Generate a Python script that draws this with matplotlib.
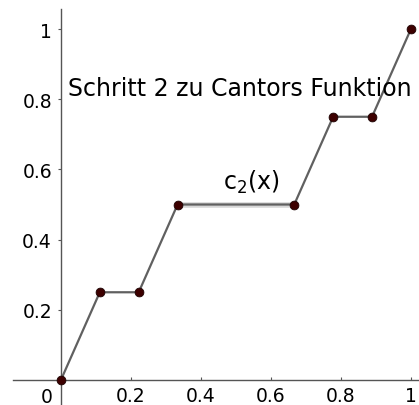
import matplotlib.pyplot as plt

# Schritt 2 der Cantor-Funktion: Stützpunkte
x_pts = [0, 1 / 9, 2 / 9, 1 / 3, 2 / 3, 7 / 9, 8 / 9, 1]
y_pts = [0, 0.25, 0.25, 0.5, 0.5, 0.75, 0.75, 1]
tick_vals = [0.2, 0.4, 0.6, 0.8, 1.0]
tick_labels = ["0.2", "0.4", "0.6", "0.8", "1"]

fig = plt.figure(figsize=(4.19, 4.06), dpi=100)
ax = fig.add_axes([0, 0, 1, 1])
ax.set_xlim(-0.174, 1.023)
ax.set_ylim(-0.0712, 1.0855)

# Achsen durch den Ursprung
for side in ("top", "right"):
    ax.spines[side].set_visible(False)
ax.spines["left"].set_position(("data", 0))
ax.spines["bottom"].set_position(("data", 0))
ax.spines["left"].set_bounds(-0.0712, 1.057)
ax.spines["bottom"].set_bounds(-0.137, 1.023)
for side in ("left", "bottom"):
    ax.spines[side].set_color("#555555")
    ax.spines[side].set_linewidth(1.0)

ax.set_xticks(tick_vals)
ax.set_xticklabels(tick_labels)
ax.set_yticks(tick_vals)
ax.set_yticklabels(tick_labels)
ax.tick_params(axis="both", width=0.8, color="#555555",
               labelsize=13.5, labelcolor="black")
ax.tick_params(axis="x", direction="in", length=2, pad=4.5)
ax.tick_params(axis="y", direction="out", length=2.2, pad=4.3)
ax.text(-0.04, -0.02, "0", ha="center", va="top", fontsize=13.5)

# markiertes Segment (leicht hervorgehoben)
ax.plot(x_pts[3:5], y_pts[3:5], color="#bbbbbb", lw=4, alpha=0.6,
        solid_capstyle="butt", zorder=2)
ax.plot(x_pts, y_pts, color="#606060", lw=1.6, zorder=3)
ax.scatter(x_pts, y_pts, s=40, color="#3d0000", edgecolor="#1a0000",
           linewidths=0.6, zorder=4, clip_on=False)

ax.text(0.543, 0.544, r"c$_2$(x)", ha="center", va="baseline", fontsize=17)
ax.text(0.02, 0.812, "Schritt 2 zu Cantors Funktion", ha="left",
        va="baseline", fontsize=17)

fig.savefig("out.png", dpi=100)
